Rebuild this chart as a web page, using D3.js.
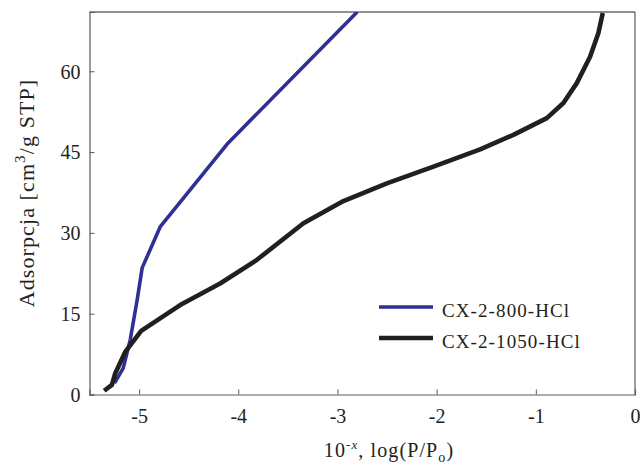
<!DOCTYPE html>
<html>
<head>
<meta charset="utf-8">
<script src="https://cdn.jsdelivr.net/npm/d3@7"></script>
<style>
  html, body { margin: 0; padding: 0; background: #fff; }
  svg { display: block; }
  text { font-family: "Liberation Serif", "Times New Roman", serif; fill: #231f20; }
</style>
</head>
<body>
<svg id="chart" width="640" height="468"></svg>
<script>
// Adsorption isotherms: log(P/Po) vs adsorbed volume
const seriesNames = ["CX-2-800-HCl", "CX-2-1050-HCl"];
const seriesColors = ["#2e3192", "#231f20"];

const x800 = [-5.248, -5.160, -5.090, -5.020, -4.969, -4.788, -4.102, -2.801];
const y800 = [2.1, 4.9, 10.1, 17.5, 23.5, 31.1, 46.7, 71.0];

const x1050 = [-5.352, -5.274, -5.241, -5.140, -4.979, -4.586, -4.183, -3.812, -3.343, -2.940,
               -2.502, -2.032, -1.561, -1.226, -0.889, -0.722, -0.587, -0.453, -0.369, -0.325];
const y1050 = [0.7, 1.8, 3.9, 7.9, 11.8, 16.6, 20.6, 25.0, 31.8, 35.9,
               39.2, 42.3, 45.5, 48.2, 51.3, 54.1, 57.8, 62.7, 67.1, 70.8];

const xTicks = [-5, -4, -3, -2, -1, 0];
const yTicks = [0, 15, 30, 45, 60];
const xDomain = [-5.5, 0];
const yDomain = [0, 71];

const svg = d3.select("#chart");
const m = { left: 89.5, right: 635, top: 12, bottom: 394.5 };

const x = d3.scaleLinear().domain(xDomain).range([m.left, m.right]);
const y = d3.scaleLinear().domain(yDomain).range([m.bottom, m.top]);

svg.append("defs").append("clipPath").attr("id", "plot")
  .append("rect")
  .attr("x", m.left).attr("y", m.top)
  .attr("width", m.right - m.left).attr("height", m.bottom - m.top);

// frame
svg.append("line").attr("x1", m.left).attr("x2", m.right).attr("y1", m.top).attr("y2", m.top)
  .attr("stroke", "#231f20").attr("stroke-width", 1);
svg.append("line").attr("x1", m.right).attr("x2", m.right).attr("y1", m.top).attr("y2", m.bottom)
  .attr("stroke", "#3a3a3a").attr("stroke-width", 1);

// axes with inward ticks
const xAxis = svg.append("g").attr("transform", `translate(0,${m.bottom})`)
  .call(d3.axisBottom(x).tickValues(xTicks).tickSize(-5).tickPadding(0).tickFormat(d => String(d)));
const yAxis = svg.append("g").attr("transform", `translate(${m.left},0)`)
  .call(d3.axisLeft(y).tickValues(yTicks).tickSize(-5).tickPadding(0).tickFormat(d => String(d)));

[xAxis, yAxis].forEach(g => {
  g.select(".domain").attr("stroke", "#5a5a5a").attr("stroke-width", 1.2);
  g.selectAll(".tick line").attr("stroke", "#5a5a5a").attr("stroke-width", 1);
  g.selectAll("text").attr("font-family", "Liberation Serif, serif").attr("font-size", 20)
    .attr("fill", "#231f20");
});
xAxis.selectAll(".tick text").attr("y", 28).attr("dy", 0);
yAxis.selectAll(".tick text").attr("x", -9).attr("dy", "0.34em");

// data lines
const line = d3.line().x(d => x(d[0])).y(d => y(d[1])).curve(d3.curveLinear);
const data = [
  d3.zip(x800, y800),
  d3.zip(x1050, y1050)
];
const widths = [3.6, 4.6];
const plot = svg.append("g").attr("clip-path", "url(#plot)");
data.forEach((pts, i) => {
  plot.append("path").datum(pts)
    .attr("d", line)
    .attr("fill", "none")
    .attr("stroke", seriesColors[i])
    .attr("stroke-width", widths[i])
    .attr("stroke-linejoin", "round");
});

// legend
const legY = [307, 338];
seriesNames.forEach((name, i) => {
  svg.append("line")
    .attr("x1", 379).attr("x2", 433).attr("y1", legY[i]).attr("y2", legY[i])
    .attr("stroke", seriesColors[i]).attr("stroke-width", widths[i]);
  svg.append("text")
    .attr("x", 442).attr("y", legY[i] + 10)
    .attr("font-size", 19).attr("letter-spacing", 1.1)
    .text(name);
});

// x axis title
const xt = svg.append("text").attr("x", 389).attr("y", 457).attr("text-anchor", "middle")
  .attr("font-size", 20).attr("letter-spacing", 1.1);
xt.append("tspan").text("10");
xt.append("tspan").attr("font-size", 13).attr("dy", -8).text("-");
xt.append("tspan").attr("font-size", 13).attr("font-style", "italic").text("x");
xt.append("tspan").attr("dy", 8).text(", log(P/P");
xt.append("tspan").attr("font-size", 14).attr("dy", 5).text("o");
xt.append("tspan").attr("dy", -5).text(")");

// y axis title
const yt = svg.append("text")
  .attr("transform", "translate(34,193) rotate(-90)")
  .attr("text-anchor", "middle").attr("font-size", 22).attr("letter-spacing", 1.1);
yt.append("tspan").text("Adsorpcja [cm");
yt.append("tspan").attr("font-size", 15).attr("dy", -9).text("3");
yt.append("tspan").attr("dy", 9).text("/g STP]");
</script>
</body>
</html>
